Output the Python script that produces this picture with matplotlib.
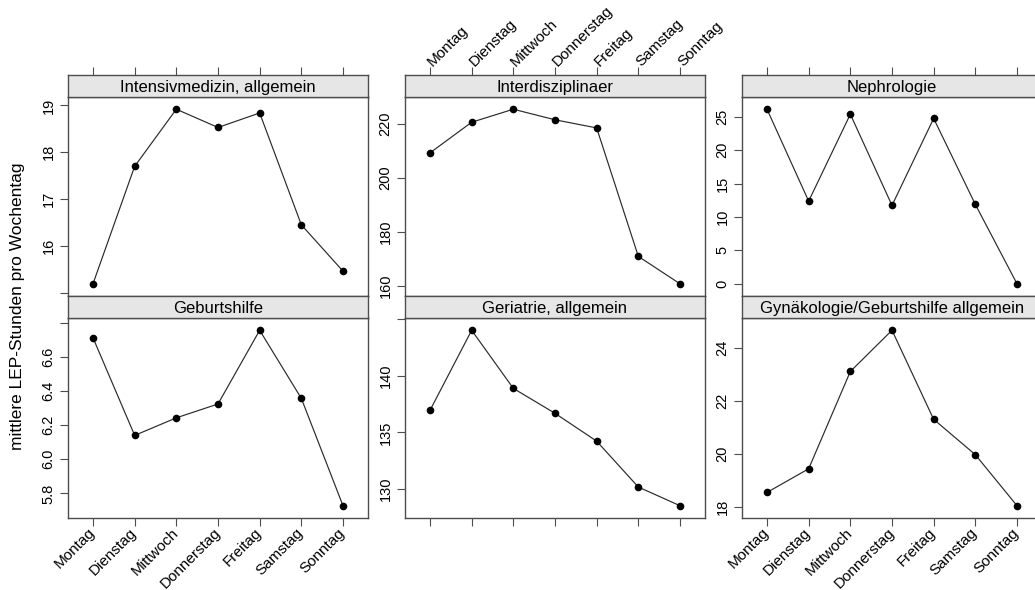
import matplotlib.pyplot as plt

plt.rcParams["font.family"] = ["Liberation Sans", "DejaVu Sans"]

W, H = 1035, 590

tage = ["Montag", "Dienstag", "Mittwoch", "Donnerstag", "Freitag", "Samstag", "Sonntag"]

titel = [
    "Intensivmedizin, allgemein",
    "Interdisziplinaer",
    "Nephrologie",
    "Geburtshilfe",
    "Geriatrie, allgemein",
    "Gynäkologie/Geburtshilfe allgemein",
]

# mittlere LEP-Stunden je Wochentag (Montag..Sonntag)
intensiv = [15.19, 17.70, 18.92, 18.53, 18.84, 16.45, 15.46]
interdis = [209.2, 220.5, 225.3, 221.4, 218.4, 171.0, 160.9]
nephro = [26.15, 12.38, 25.40, 11.74, 24.77, 11.89, 0.0]
geburt = [6.712, 6.140, 6.243, 6.324, 6.756, 6.357, 5.728]
geriatrie = [136.95, 144.02, 138.89, 136.69, 134.23, 130.18, 128.53]
gyn = [18.55, 19.44, 23.10, 24.65, 21.30, 19.97, 18.05]

# y-Ticks je Panel
ticks_intensiv = [15, 16, 17, 18, 19]
ticks_interdis = [160, 180, 200, 220]
ticks_nephro = [0, 5, 10, 15, 20, 25]
ticks_geburt = [5.8, 6.0, 6.2, 6.4, 6.6, 6.8]
ticks_geriatrie = [130, 135, 140, 145]
ticks_gyn = [18, 20, 22, 24]

werte = [intensiv, interdis, nephro, geburt, geriatrie, gyn]
yticks = [ticks_intensiv, ticks_interdis, ticks_nephro,
          ticks_geburt, ticks_geriatrie, ticks_gyn]

RAHMEN = "#4d4d4d"
STRIP = "#e6e6e6"


def box(x0, y0, x1, y1):
    return [x0 / W, 1 - y1 / H, (x1 - x0) / W, (y1 - y0) / H]


spalten = [(68, 368), (405, 705), (742, 1042)]
zeilen = [((75, 97), (97, 296)), ((296, 318), (318, 518))]

fig = plt.figure(figsize=(W / 100, H / 100), dpi=100)
x = list(range(len(tage)))

for i in range(6):
    zeile, spalte = divmod(i, 3)
    x0, x1 = spalten[spalte]
    (s0, s1), (p0, p1) = zeilen[zeile]

    ax = fig.add_axes(box(x0, p0, x1, p1))
    st = fig.add_axes(box(x0, s0, x1, s1))

    y = werte[i]
    lo, hi = min(y), max(y)
    rand = 0.07 * (hi - lo)
    ylim = (lo - rand, hi + rand)

    ax.plot(x, y, color="#2a2a2a", lw=0.85, zorder=2)
    ax.plot(x, y, "o", color="black", ms=5.5, mew=0, zorder=3)
    ax.set_xlim(-0.6, 6.6)
    ax.set_ylim(*ylim)

    # Tick-Beschriftungen direkt am Panelrand weglassen
    t = yticks[i]
    dez = 1 if any(v != int(v) for v in t) else 0
    labels = []
    for v in t:
        nah = min(v - ylim[0], ylim[1] - v) < 0.04 * (ylim[1] - ylim[0])
        labels.append("" if nah else f"{v:.{dez}f}")
    ax.set_yticks(t)
    ax.set_yticklabels(labels)
    ax.tick_params(axis="y", direction="out", length=6, width=0.8,
                   color=RAHMEN, labelsize=10.5, labelrotation=90, pad=3)
    for lab in ax.get_yticklabels():
        lab.set_va("center")

    for sp in ax.spines.values():
        sp.set_color(RAHMEN)
        sp.set_linewidth(1.0)

    # Strip mit Paneltitel
    st.set_facecolor(STRIP)
    st.set_xlim(-0.6, 6.6)
    st.set_ylim(0, 1)
    st.set_yticks([])
    st.text(3, 0.45, titel[i], ha="center", va="center", fontsize=12)
    for sp in st.spines.values():
        sp.set_color(RAHMEN)
        sp.set_linewidth(1.0)

    if zeile == 0:
        ax.set_xticks([])
        st.set_xticks(x)
        st.xaxis.tick_top()
        st.tick_params(axis="x", direction="out", length=6, width=0.8,
                       color=RAHMEN, labelsize=11, pad=2,
                       labeltop=(spalte == 1))
        if spalte == 1:
            st.set_xticklabels(tage)
            for lab in st.get_xticklabels():
                lab.set_rotation(45)
                lab.set_rotation_mode("anchor")
                lab.set_ha("left")
                lab.set_va("center")
    else:
        st.set_xticks([])
        ax.set_xticks(x)
        ax.tick_params(axis="x", direction="out", length=6, width=0.8,
                       color=RAHMEN, labelsize=11, pad=3,
                       labelbottom=(spalte != 1))
        if spalte != 1:
            ax.set_xticklabels(tage)
            for lab in ax.get_xticklabels():
                lab.set_rotation(45)
                lab.set_rotation_mode("anchor")
                lab.set_ha("right")
                lab.set_va("center")

fig.text(18 / W, 1 - 306 / H, "mittlere LEP-Stunden pro Wochentag",
         rotation=90, ha="center", va="center", fontsize=12.5)

fig.savefig("out.png", dpi=100)
